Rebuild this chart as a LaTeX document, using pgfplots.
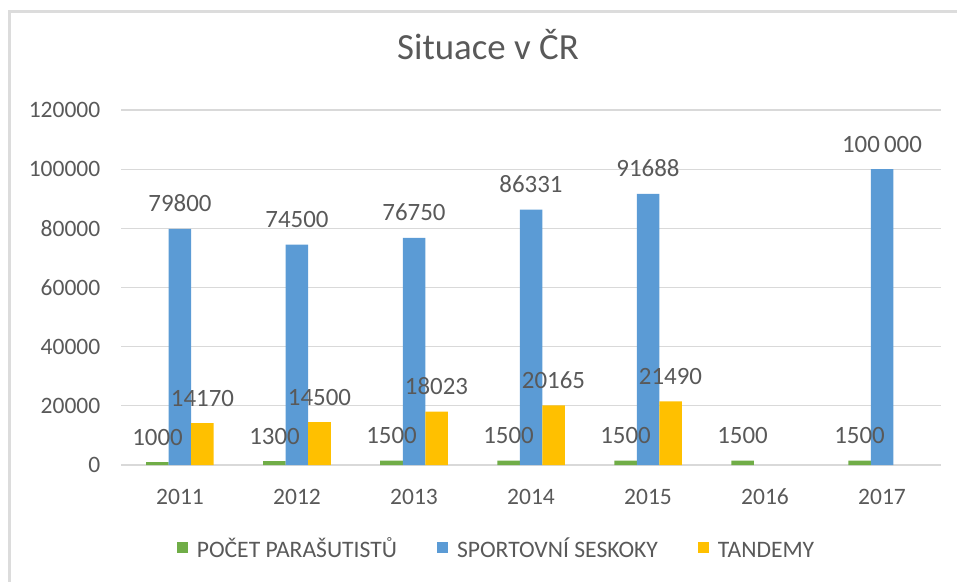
\documentclass[border=0pt]{standalone}
\usepackage{pgfplots}
\pgfplotsset{compat=1.18}
\usepackage{fontspec}
\setmainfont{Carlito}
\definecolor{cgreen}{HTML}{70AD47}
\definecolor{cblue}{HTML}{5B9BD5}
\definecolor{cyellow}{HTML}{FFC000}
\definecolor{ctext}{HTML}{595959}
\definecolor{cgrid}{HTML}{D9D9D9}
\definecolor{cframe}{HTML}{DCDCDC}
\begin{document}
\begin{tikzpicture}
\begin{axis}[
  name=ax,
  scale only axis, width=819bp, height=355bp,
  xmin=-0.5, xmax=6.5, ymin=0, ymax=120000,
  xtick={0,...,6}, xticklabels={2011,2012,2013,2014,2015,2016,2017},
  ytick={0,20000,...,120000},
  scaled y ticks=false,
  yticklabel={\pgfmathprintnumber[fixed,precision=0,1000 sep={}]{\tick}},
  /pgf/number format/assume math mode=true,
  ymajorgrids, grid style={cgrid, line width=1.2bp},
  axis line style={draw=none},
  major tick length=0pt,
  tick label style={font=\fontsize{23.6}{24}\selectfont, text=ctext, inner sep=0pt},
  yticklabel style={anchor=east, xshift=-21bp},
  xticklabel style={anchor=base, yshift=-39bp},
  title={Situace v ČR},
  title style={at={(0.4475,1)}, anchor=base, yshift=45bp, font=\fontsize{37}{40}\selectfont, text=ctext, inner sep=0pt},
  legend columns=3,
  legend style={at={(0.4567,-0.2338)}, anchor=center, draw=none, fill=none,
    font=\fontsize{23.7}{24}\selectfont, text=ctext, inner sep=0pt,
    nodes={inner sep=0pt},
    /tikz/every odd column/.append style={column sep=9bp},
    /tikz/every even column/.append style={column sep=40bp}},
  legend cell align=left,
  legend image code/.code={\fill[#1] (0bp,-5.5bp) rectangle (11bp,5.5bp);},
  every node near coord/.append style={font=\fontsize{25}{26}\selectfont, text=ctext, anchor=base, inner sep=0pt, yshift=17bp},
]
\addplot[ybar, bar width=22.5bp, bar shift=-22.5bp, fill=cgreen, draw=none]
  coordinates {(0,1000) (1,1300) (2,1500) (3,1500) (4,1500) (5,1500) (6,1500)};
\addlegendentry{POČET PARAŠUTISTŮ\vphantom{ŮÍ}}
\addplot[ybar, bar width=22.5bp, bar shift=0bp, fill=cblue, draw=none]
  coordinates {(0,79800) (1,74500) (2,76750) (3,86331) (4,91688) (6,100000)};
\addlegendentry{SPORTOVNÍ SESKOKY\vphantom{ŮÍ}}
\addplot[ybar, bar width=22.5bp, bar shift=22.5bp, fill=cyellow, draw=none]
  coordinates {(0,14170) (1,14500) (2,18023) (3,20165) (4,21490)};
\addlegendentry{TANDEMY\vphantom{ŮÍ}}
% data labels drawn on top
\addplot[ybar, bar width=22.5bp, bar shift=-22.5bp, draw=none, fill=none, forget plot,
  point meta=explicit symbolic, nodes near coords, nodes near coords style={xshift=-22.5bp}]
  coordinates {(0,1000)[1000] (1,1300)[1300] (2,1500)[1500] (3,1500)[1500] (4,1500)[1500] (5,1500)[1500] (6,1500)[1500]};
\addplot[ybar, bar width=22.5bp, bar shift=0bp, draw=none, fill=none, forget plot,
  point meta=explicit symbolic, nodes near coords]
  coordinates {(0,79800)[79800] (1,74500)[74500] (2,76750)[76750] (3,86331)[86331] (4,91688)[91688] (6,100000)[100\,000]};
\addplot[ybar, bar width=22.5bp, bar shift=22.5bp, draw=none, fill=none, forget plot,
  point meta=explicit symbolic, nodes near coords, nodes near coords style={xshift=22.5bp}]
  coordinates {(0,14170)[14170] (1,14500)[14500] (2,18023)[18023] (3,20165)[20165] (4,21490)[21490]};
\end{axis}
\path (ax.south west) ++(-121.5bp,-117bp) coordinate (BL);
\draw[cframe, line width=2.5bp] ([xshift=9.5bp,yshift=-5bp]BL) -- ([xshift=9.5bp,yshift=570.5bp]BL) -- ([xshift=965bp,yshift=570.5bp]BL);
\pgfresetboundingbox
\path[use as bounding box] (BL) rectangle ([xshift=957bp,yshift=582bp]BL);
\end{tikzpicture}
\end{document}
